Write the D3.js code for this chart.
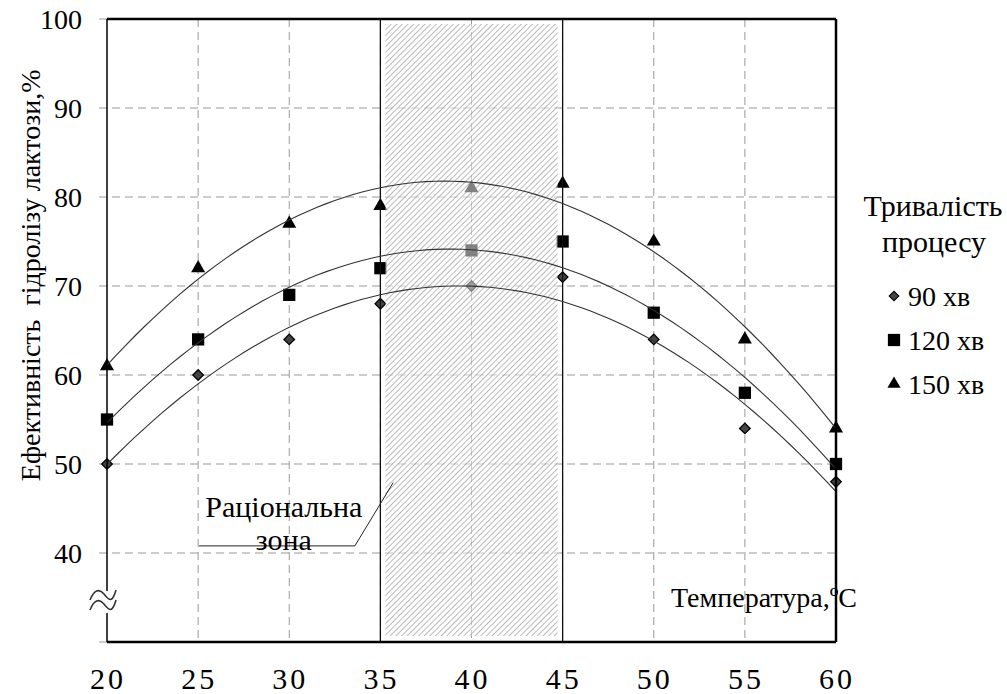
<!DOCTYPE html>
<html>
<head>
<meta charset="utf-8">
<script src="https://cdn.jsdelivr.net/npm/d3@7"></script>
</head>
<body style="margin:0">
<div id="c"></div>
<script>
const temps = [20, 25, 30, 35, 40, 45, 50, 55, 60]
const s90 = [50, 60, 64, 68, 70, 71, 64, 54, 48]
const s120 = [55, 64, 69, 72, 74, 75, 67, 58, 50]
const s150 = [61, 72, 77, 79, 81, 81.5, 75, 64, 54]
const seriesNames = ['90 хв', '120 хв', '150 хв']
const yTicks = [40, 50, 60, 70, 80, 90, 100]
const zone = [35, 45]

const w = 1007, h = 694
const margin = {top: 19, right: 171, bottom: 52, left: 107}
const width = w - margin.left - margin.right
const height = h - margin.top - margin.bottom
const fontName = 'Liberation Serif'

const svg = d3.select('#c').append('svg')
  .attr('width', w).attr('height', h)
  .style('font-family', `'${fontName}'`)

const x = d3.scaleLinear().domain([20, 60]).range([0, width])
const y = d3.scaleLinear().domain([30, 100]).range([height, 0])
const X = v => margin.left + x(v)
const Y = v => margin.top + y(v)

const defs = svg.append('defs')
const pat = defs.append('pattern')
  .attr('id', 'hatch')
  .attr('patternUnits', 'userSpaceOnUse')
  .attr('width', 4).attr('height', 4)
  .attr('patternTransform', 'rotate(45)')
pat.append('rect').attr('width', 4).attr('height', 4).attr('fill', '#fff').attr('opacity', 0.5)
pat.append('line').attr('x1', 0).attr('y1', 0).attr('x2', 0).attr('y2', 4)
  .attr('stroke', '#8a8a8a').attr('stroke-width', 1.2)

const g = svg.append('g').attr('transform', `translate(${margin.left},${margin.top})`)

// grid
g.selectAll('.hgrid').data(yTicks.slice(0, -1)).enter().append('line')
  .attr('x1', -8).attr('x2', width)
  .attr('y1', d => y(d)).attr('y2', d => y(d))
  .attr('stroke', '#999').attr('stroke-dasharray', '8,5')
g.append('line').attr('x1', -8).attr('x2', 0).attr('y1', y(100)).attr('y2', y(100)).attr('stroke', '#999')
g.append('line').attr('x1', -8).attr('x2', 0).attr('y1', y(30)).attr('y2', y(30)).attr('stroke', '#999')
g.selectAll('.vgrid').data(temps.slice(1, -1)).enter().append('line')
  .attr('x1', d => x(d)).attr('x2', d => x(d))
  .attr('y1', 0).attr('y2', height)
  .attr('stroke', '#999').attr('stroke-dasharray', '8,5')

// markers
const series = [s90, s120, s150]
const shapes = [d3.symbolSquare, d3.symbolSquare, d3.symbolTriangle]
const sizes = [56, 150, 85]
const fills = ['#444', '#000', '#000']
const rot = [' rotate(45)', '', '']
series.forEach((s, i) => {
  g.selectAll('.m' + i).data(s).enter().append('path')
    .attr('d', d3.symbol().type(shapes[i]).size(sizes[i]))
    .attr('transform', (d, j) => `translate(${x(temps[j])},${y(d)})` + rot[i])
    .attr('fill', fills[i])
    .attr('stroke', '#000').attr('stroke-width', i === 0 ? 1.3 : 0)
})

// rational zone hatch
g.append('rect')
  .attr('x', x(zone[0]) + 5).attr('y', 5)
  .attr('width', x(zone[1]) - x(zone[0]) - 10).attr('height', height - 11)
  .attr('fill', 'url(#hatch)')
g.selectAll('.zl').data(zone).enter().append('line')
  .attr('x1', d => x(d)).attr('x2', d => x(d))
  .attr('y1', 0).attr('y2', height)
  .attr('stroke', '#111').attr('stroke-width', 1.3)

// quadratic trendlines (least squares fit of each series)
function quadFit(xs, ys) {
  let S = [0, 0, 0, 0, 0], T = [0, 0, 0]
  xs.forEach((xv, i) => {
    for (let k = 0; k < 5; k++) S[k] += Math.pow(xv, k)
    for (let k = 0; k < 3; k++) T[k] += ys[i] * Math.pow(xv, k)
  })
  const A = [[S[0], S[1], S[2], T[0]], [S[1], S[2], S[3], T[1]], [S[2], S[3], S[4], T[2]]]
  for (let c = 0; c < 3; c++) {
    for (let r = c + 1; r < 3; r++) {
      const f = A[r][c] / A[c][c]
      for (let k = c; k < 4; k++) A[r][k] -= f * A[c][k]
    }
  }
  const co = [0, 0, 0]
  for (let r = 2; r >= 0; r--) {
    let v = A[r][3]
    for (let k = r + 1; k < 3; k++) v -= A[r][k] * co[k]
    co[r] = v / A[r][r]
  }
  return t => co[0] + co[1] * t + co[2] * t * t
}
const line = d3.line().x(d => x(d[0])).y(d => y(d[1]))
series.forEach(s => {
  const f = quadFit(temps, s)
  const pts = d3.range(20, 60.01, 0.5).map(t => [t, f(t)])
  g.append('path').attr('d', line(pts))
    .attr('fill', 'none').attr('stroke', '#333').attr('stroke-width', 1.1)
})

// frame
g.append('line').attr('x1', 0).attr('x2', 0).attr('y1', 0).attr('y2', height).attr('stroke', '#000').attr('stroke-width', 1.5)
g.append('line').attr('x1', 0).attr('x2', width).attr('y1', 0).attr('y2', 0).attr('stroke', '#000').attr('stroke-width', 2.5)
g.append('line').attr('x1', width).attr('x2', width).attr('y1', 0).attr('y2', height).attr('stroke', '#000').attr('stroke-width', 2.5)
g.append('line').attr('x1', 0).attr('x2', width).attr('y1', height).attr('y2', height).attr('stroke', '#000').attr('stroke-width', 2.5)

// axis break squiggle
const sq = g.append('g').attr('transform', `translate(0,${y(34.6)})`)
sq.append('rect').attr('x', -6).attr('y', -10).attr('width', 12).attr('height', 22).attr('fill', '#fff')
;[-5, 5].forEach(o => {
  sq.append('path')
    .attr('d', `M-17,${o + 4} C-13,${o - 6} -8,${o - 8} -3,${o - 2} S5,${o + 8} 9,${o - 6}`)
    .attr('fill', 'none').attr('stroke', '#333').attr('stroke-width', 1.6)
})

// annotation leader
g.append('path')
  .attr('d', `M${x(25.05)},${y(40.8)} L${x(33.6)},${y(40.8)} L${x(35.7)},${y(47.9)}`)
  .attr('fill', 'none').attr('stroke', '#222').attr('stroke-width', 1)

// legend markers
const lgx = margin.left + width
seriesNames.forEach((n, i) => {
  svg.append('path')
    .attr('d', d3.symbol().type(shapes[i]).size([45, 150, 75][i]))
    .attr('transform', `translate(${lgx + 58},${296 + i * 44})` + rot[i])
    .attr('fill', fills[i]).attr('stroke', '#000').attr('stroke-width', i === 0 ? 1.2 : 0)
})

// all texts in one layer, straight on the svg
const labels = []
yTicks.forEach(d => labels.push({t: d, x: margin.left - 25, y: Y(d) + 9.5, s: 28, a: 'end'}))
temps.forEach(d => labels.push({t: d, x: X(d) + 1, y: margin.top + height + 47, s: 30, a: 'middle', ls: 3}))
labels.push({t: 'Ефективність\u00a0 гідролізу лактози,%', x: 0, y: 0, s: 28, a: 'middle',
  tr: `translate(40,${Y(71.2)}) rotate(-90)`})
labels.push({t: 'Температура,ºС', x: X(56.05), y: Y(33.9), s: 28, a: 'middle'})
labels.push({t: 'Раціональна', x: X(29.7), y: Y(44.0), s: 30, a: 'middle'})
labels.push({t: 'зона', x: X(29.7), y: Y(40.3), s: 30, a: 'middle'})
labels.push({t: 'Тривалість', x: lgx + 97, y: 216, s: 30, a: 'middle'})
labels.push({t: 'процесу', x: lgx + 98, y: 252, s: 30, a: 'middle'})
seriesNames.forEach((n, i) => labels.push({t: n, x: lgx + 72, y: 296 + i * 44 + 9.5, s: 28, a: 'start'}))

svg.selectAll('text').data(labels).enter().append('text')
  .attr('x', d => d.x).attr('y', d => d.y)
  .attr('font-size', d => d.s)
  .attr('text-anchor', d => d.a)
  .attr('letter-spacing', d => d.ls || null)
  .attr('transform', d => d.tr || null)
  .style('font-family', d => `'${fontName}'`)
  .text(d => d.t)
</script>
</body>
</html>
